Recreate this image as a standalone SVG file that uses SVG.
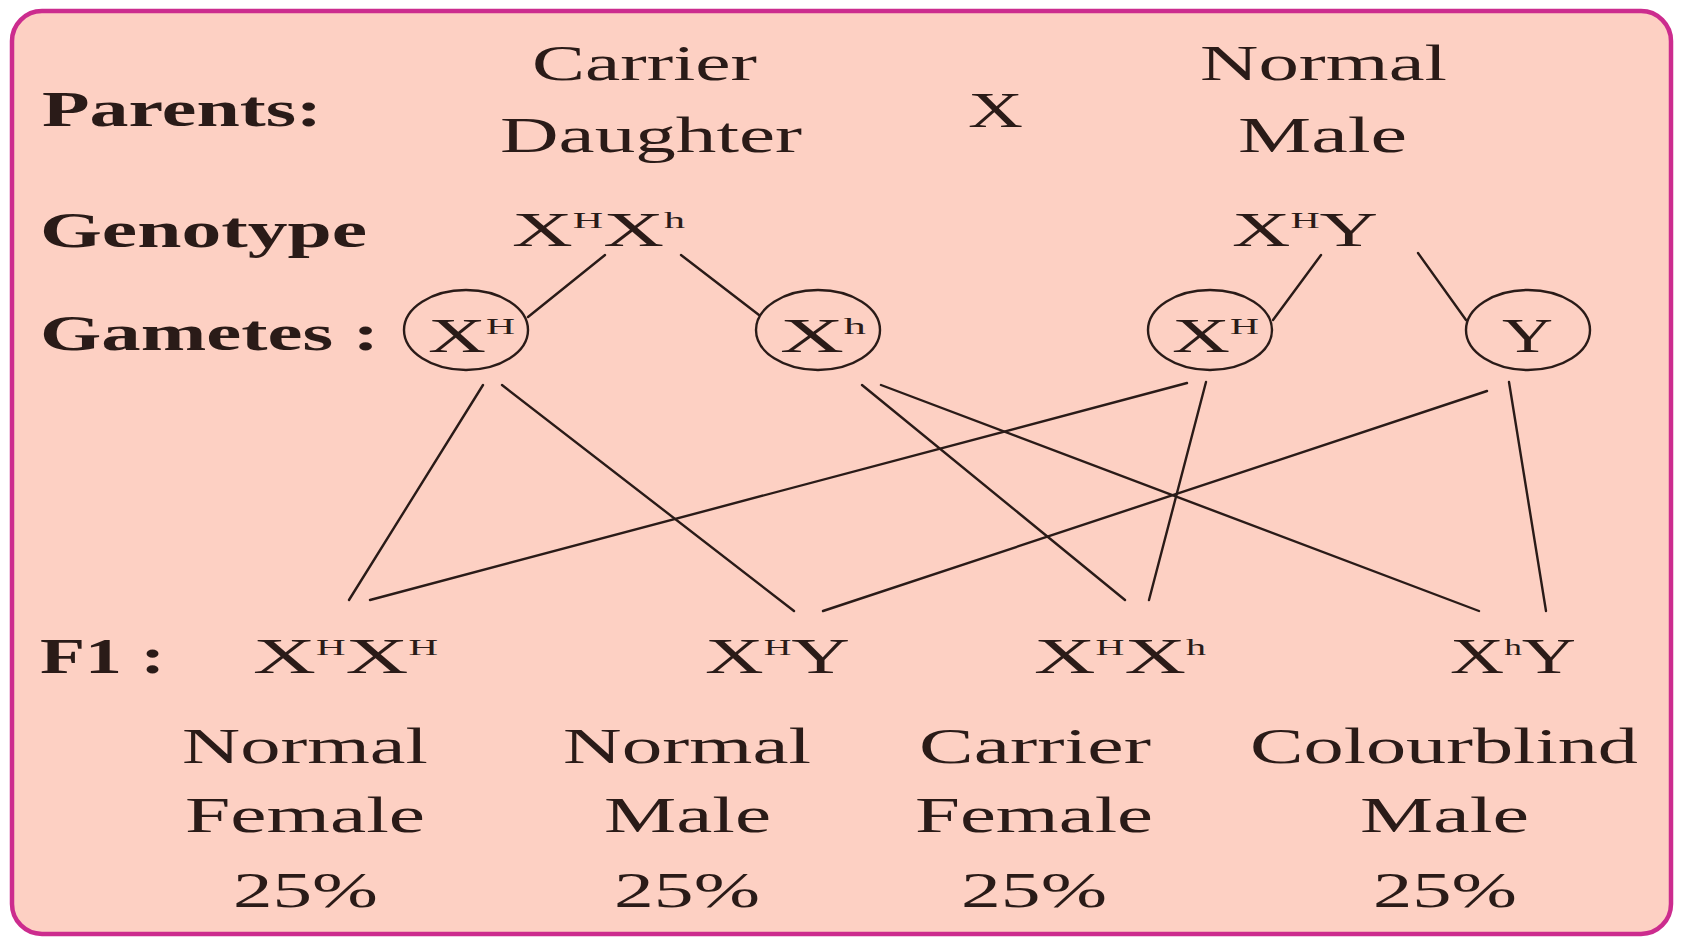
<svg xmlns="http://www.w3.org/2000/svg" width="1682" height="940" viewBox="0 0 1682 940">
<style>
text{font-family:"Liberation Serif","Times New Roman",serif;fill:#2a1b18;font-size:51px}
.b{font-weight:bold}
.g{font-size:48px}
.s{font-size:24px}
.c{fill:none;stroke:#2a1b18;stroke-width:2.4}
#connectors line{stroke:#2a1b18;stroke-width:2.4;stroke-linecap:round}
</style>
<rect x="0" y="0" width="1682" height="940" fill="#ffffff"/>
<rect x="12" y="11" width="1659" height="923" rx="30" ry="30" fill="#fdd0c3" stroke="#cc2c8e" stroke-width="4.5"/>

<g id="labels">
<text class="b" x="42" y="126" textLength="280" lengthAdjust="spacingAndGlyphs">Parents:</text>
<text class="b" x="40" y="247" textLength="327" lengthAdjust="spacingAndGlyphs">Genotype</text>
<text class="b" x="40" y="350" textLength="339" lengthAdjust="spacingAndGlyphs">Gametes :</text>
<text class="b" x="40" y="673" textLength="125" lengthAdjust="spacingAndGlyphs">F1 :</text>
</g>

<g id="parent-female">
<text x="532" y="80" textLength="225" lengthAdjust="spacingAndGlyphs">Carrier</text>
<text x="500" y="152" textLength="302" lengthAdjust="spacingAndGlyphs">Daughter</text>
</g>
<g id="cross"><text x="968" y="127" textLength="55" lengthAdjust="spacingAndGlyphs">X</text></g>
<g id="parent-male">
<text x="1200" y="80" textLength="247" lengthAdjust="spacingAndGlyphs">Normal</text>
<text x="1238" y="152" textLength="169" lengthAdjust="spacingAndGlyphs">Male</text>
</g>

<g id="genotype-female"><text class="g" x="512" y="246" textLength="173" lengthAdjust="spacingAndGlyphs">X<tspan class="s" dy="-18">H</tspan><tspan dy="18">X</tspan><tspan class="s" dy="-18">h</tspan></text></g>
<g id="genotype-male"><text class="g" x="1232" y="246" textLength="146" lengthAdjust="spacingAndGlyphs">X<tspan class="s" dy="-18">H</tspan><tspan dy="18">Y</tspan></text></g>

<g id="gamete-XH-1"><ellipse class="c" cx="466" cy="330" rx="62" ry="40"/><text class="g" x="428" y="352" textLength="87" lengthAdjust="spacingAndGlyphs">X<tspan class="s" dy="-18">H</tspan></text></g>
<g id="gamete-Xh"><ellipse class="c" cx="818" cy="330" rx="62" ry="40"/><text class="g" x="780" y="352" textLength="86" lengthAdjust="spacingAndGlyphs">X<tspan class="s" dy="-18">h</tspan></text></g>
<g id="gamete-XH-2"><ellipse class="c" cx="1210" cy="330" rx="62" ry="40"/><text class="g" x="1172" y="352" textLength="87" lengthAdjust="spacingAndGlyphs">X<tspan class="s" dy="-18">H</tspan></text></g>
<g id="gamete-Y"><ellipse class="c" cx="1528" cy="330" rx="62" ry="40"/><text class="g" x="1502" y="352" textLength="51" lengthAdjust="spacingAndGlyphs">Y</text></g>

<g id="connectors">
<line x1="605" y1="255" x2="528" y2="317"/>
<line x1="681" y1="255" x2="759" y2="315"/>
<line x1="1321" y1="255" x2="1273" y2="320"/>
<line x1="1418" y1="253" x2="1466" y2="320"/>
<line x1="483" y1="385" x2="349" y2="600"/>
<line x1="502" y1="385" x2="794" y2="611"/>
<line x1="862" y1="385" x2="1125" y2="600"/>
<line x1="881" y1="385" x2="1479" y2="611"/>
<line x1="1187" y1="383" x2="370" y2="600"/>
<line x1="1206" y1="382" x2="1149" y2="600"/>
<line x1="1487" y1="391" x2="823" y2="611"/>
<line x1="1509" y1="382" x2="1546" y2="611"/>
</g>

<g id="f1-XHXH">
<text x="253" y="673" textLength="185" lengthAdjust="spacingAndGlyphs">X<tspan class="s" dy="-18">H</tspan><tspan dy="18">X</tspan><tspan class="s" dy="-18">H</tspan></text>
<text x="182" y="763" textLength="246" lengthAdjust="spacingAndGlyphs">Normal</text>
<text x="185" y="832" textLength="240" lengthAdjust="spacingAndGlyphs">Female</text>
<text x="233" y="907" textLength="145" lengthAdjust="spacingAndGlyphs">25%</text>
</g>
<g id="f1-XHY">
<text x="705" y="673" textLength="145" lengthAdjust="spacingAndGlyphs">X<tspan class="s" dy="-18">H</tspan><tspan dy="18">Y</tspan></text>
<text x="563" y="763" textLength="248" lengthAdjust="spacingAndGlyphs">Normal</text>
<text x="604" y="832" textLength="167" lengthAdjust="spacingAndGlyphs">Male</text>
<text x="614" y="907" textLength="146" lengthAdjust="spacingAndGlyphs">25%</text>
</g>
<g id="f1-XHXh">
<text x="1034" y="673" textLength="172" lengthAdjust="spacingAndGlyphs">X<tspan class="s" dy="-18">H</tspan><tspan dy="18">X</tspan><tspan class="s" dy="-18">h</tspan></text>
<text x="919" y="763" textLength="232" lengthAdjust="spacingAndGlyphs">Carrier</text>
<text x="915" y="832" textLength="238" lengthAdjust="spacingAndGlyphs">Female</text>
<text x="961" y="907" textLength="146" lengthAdjust="spacingAndGlyphs">25%</text>
</g>
<g id="f1-XhY">
<text x="1450" y="673" textLength="126" lengthAdjust="spacingAndGlyphs">X<tspan class="s" dy="-18">h</tspan><tspan dy="18">Y</tspan></text>
<text x="1250" y="763" textLength="388" lengthAdjust="spacingAndGlyphs">Colourblind</text>
<text x="1360" y="832" textLength="169" lengthAdjust="spacingAndGlyphs">Male</text>
<text x="1373" y="907" textLength="144" lengthAdjust="spacingAndGlyphs">25%</text>
</g>
</svg>
